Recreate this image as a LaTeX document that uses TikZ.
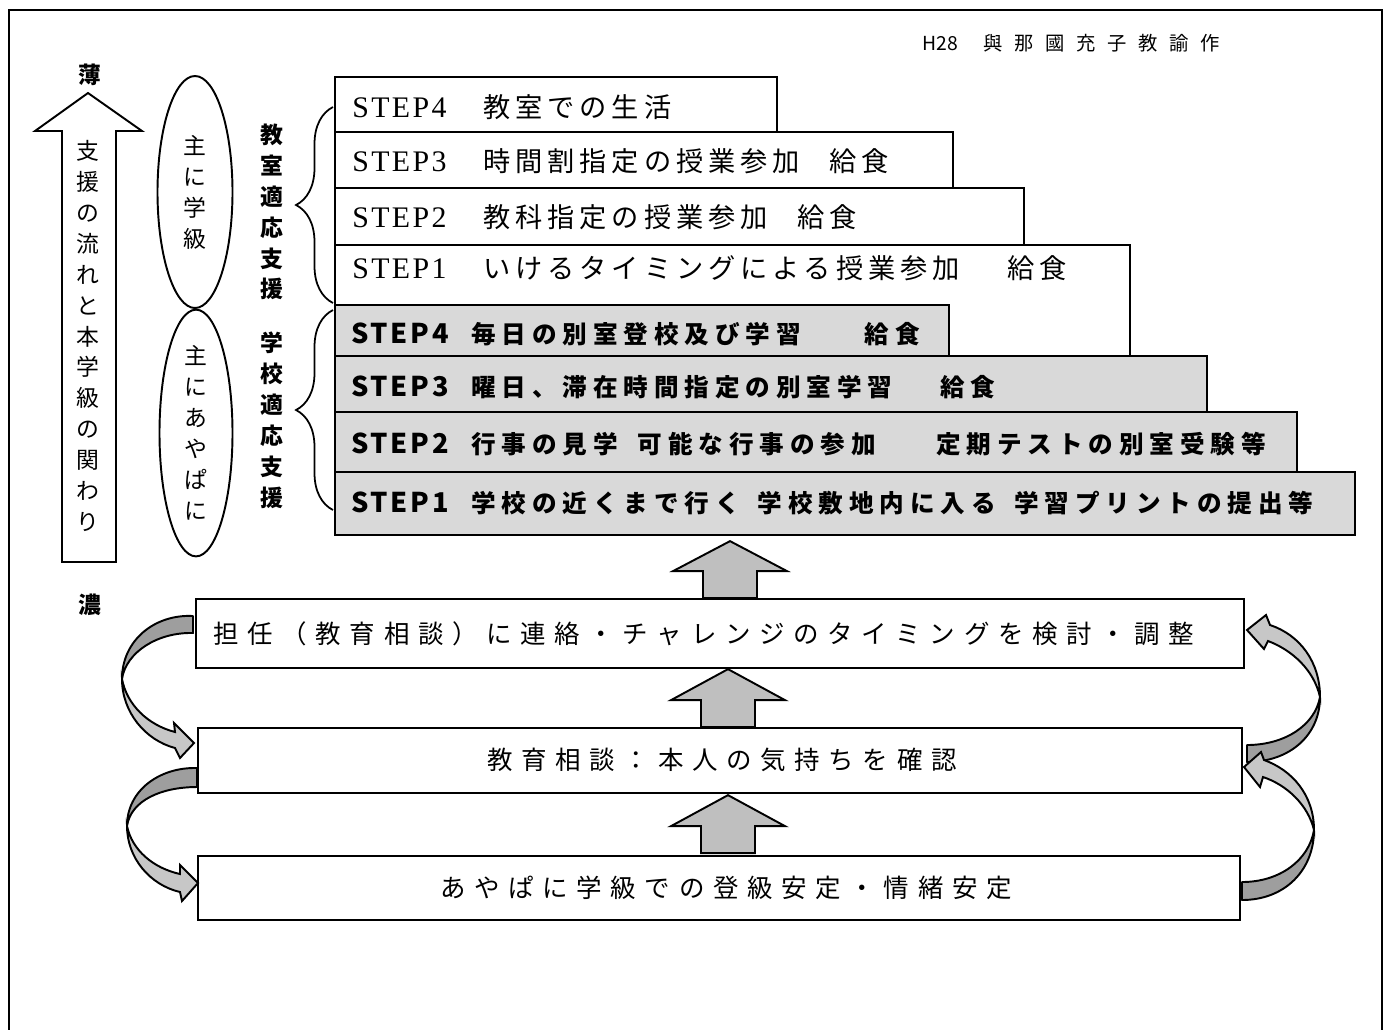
\documentclass[tikz,border=0pt]{standalone}
\usepackage{fontspec}
\setmainfont{Liberation Serif}
\newfontfamily\jp{Noto Sans CJK JP}
\newfontfamily\jpw{Noto Sans CJK JP}[LetterSpace=18]
\newfontfamily\jpg{Noto Sans CJK JP}[LetterSpace=24]
\newfontfamily\jpgl{Noto Sans CJK JP}[LetterSpace=10]
\newfontfamily\jpl{Noto Sans CJK JP}[LetterSpace=34]
\newfontfamily\jph{Noto Sans CJK JP}[LetterSpace=60]
\newfontfamily\latw{Liberation Serif}[LetterSpace=8]
\usetikzlibrary{calc,fit,shapes.geometric,decorations.pathreplacing}
\newlength\pxu
\setlength\pxu{0.02cm}
\begin{document}
\begin{tikzpicture}[x=0.02cm,y=-0.02cm,
  wbox/.style={draw,line width=1pt,fill=white,inner sep=0pt},
  gbox/.style={draw,line width=1pt,fill=black!15,inner sep=0pt},
  lbox/.style={draw,line width=1pt,fill=white,inner sep=0pt},
  wtext/.style={anchor=west,inner sep=0pt,font=\fontsize{15.5}{18}\selectfont},
  gtext/.style={anchor=west,inner sep=0pt,font=\fontsize{14}{17}\selectfont\bfseries},
  ltext/.style={inner sep=0pt,font=\fontsize{14.5}{17}\selectfont\jpl},
  vtext/.style={align=center,inner sep=0pt,font=\fontsize{13}{17.6}\selectfont\jp},
  vbold/.style={align=center,inner sep=0pt,font=\fontsize{13}{17.6}\selectfont\jp\bfseries},
  uparr/.style={draw,line width=1.1pt,fill=black!25,line join=miter},
  cdark/.style={draw,line width=1.1pt,fill=black!38,line join=round},
  clight/.style={draw,line width=1.1pt,fill=black!22,line join=miter},
  ell/.style={draw,ellipse,line width=1.1pt,inner sep=0pt,align=center,font=\fontsize{13}{17.6}\selectfont\jp},
  bracestyle/.style={draw,line width=1pt,decorate,decoration={brace,amplitude=0.74cm}}
]
\useasboundingbox (0,0) rectangle (1388,1029);
% outer frame
\draw[line width=1.3pt] (9,1040) -- (9,10) -- (1382,10) -- (1382,1040);

% header
\node[anchor=west,inner sep=0pt,font=\fontsize{11}{12}\selectfont] (hdr) at (922,43)
  {\jp H28\hspace{26\pxu}\jph 與那國充子教諭作};

% left big arrow
\draw[line width=1.1pt,fill=white,line join=miter] (62,562) -- (62,131) -- (35,131) -- (88,93) -- (142,131) -- (116,131) -- (116,562) -- cycle;
\node[vtext] (flow) at (88,336) {支\\援\\の\\流\\れ\\と\\本\\学\\級\\の\\関\\わ\\り};
\node[inner sep=0pt,font=\fontsize{13}{15}\selectfont\jp\bfseries] (thin) at (90,75) {薄};
\node[inner sep=0pt,font=\fontsize{13}{15}\selectfont\jp\bfseries] (thick) at (90,605) {濃};

% ellipses
\node[ell,minimum width=75\pxu,minimum height=232\pxu] (e1) at (195,192) {主\\に\\学\\級};
\node[ell,minimum width=73\pxu,minimum height=218\pxu] (e2) at (196,433) {主\\に\\あ\\や\\ぱ\\に};

% bold vertical labels
\node[vbold] (lab1) at (272,212) {教\\室\\適\\応\\支\\援};
\node[vbold] (lab2) at (272,420) {学\\校\\適\\応\\支\\援};

% braces
\draw[bracestyle] (333,303) -- (333,107);
\draw[bracestyle] (333,510) -- (333,310);

% white steps
\node[wbox,fit={(335,77)(777,132)}] (w4) {};
\node[wbox,fit={(335,132)(953,188)}] (w3) {};
\node[wbox,fit={(335,188)(1024,245)}] (w2) {};
\node[wbox,fit={(335,245)(1130,356)}] (w1) {};
\node[wtext] (tw4) at (352,107) {{\fontsize{17}{18}\selectfont\latw\makebox[131\pxu][l]{STEP4}}\jpw 教室での生活};
\node[wtext] (tw3) at (352,161) {{\fontsize{17}{18}\selectfont\latw\makebox[131\pxu][l]{STEP3}}\jpw 時間割指定の授業参加\hspace{30\pxu}給食};
\node[wtext] (tw2) at (352,217) {{\fontsize{17}{18}\selectfont\latw\makebox[131\pxu][l]{STEP2}}\jpw 教科指定の授業参加\hspace{30\pxu}給食};
\node[wtext] (tw1) at (352,268) {{\fontsize{17}{18}\selectfont\latw\makebox[131\pxu][l]{STEP1}}\jpw いけるタイミングによる授業参加\hspace{48\pxu}給食};

% gray steps
\node[gbox,fit={(335,305)(949,356)}] (g4) {};
\node[gbox,fit={(335,356)(1207,412)}] (g3) {};
\node[gbox,fit={(335,412)(1297,472)}] (g2) {};
\node[gbox,fit={(335,472)(1355,535)}] (g1) {};
\node[gtext] (tg4) at (351,334) {{\fontsize{15.5}{17}\selectfont\jpgl\makebox[120\pxu][l]{STEP4}}\jpg 毎日の別室登校及び学習\hspace{64\pxu}給食};
\node[gtext] (tg3) at (351,387) {{\fontsize{15.5}{17}\selectfont\jpgl\makebox[120\pxu][l]{STEP3}}\jpg 曜日、滞在時間指定の別室学習\hspace{48\pxu}給食};
\node[gtext] (tg2) at (351,444) {{\fontsize{15.5}{17}\selectfont\jpgl\makebox[120\pxu][l]{STEP2}}\jpg 行事の見学\hspace{20\pxu}可能な行事の参加\hspace{60\pxu}定期テストの別室受験等};
\node[gtext] (tg1) at (351,503) {{\fontsize{15.5}{17}\selectfont\jpgl\makebox[120\pxu][l]{STEP1}}\jpg 学校の近くまで行く\hspace{18\pxu}学校敷地内に入る\hspace{18\pxu}学習プリントの提出等};

% lower boxes
\node[lbox,fit={(196,599)(1244,668)}] (A) {};
\node[lbox,fit={(198,728)(1242,793)}] (B) {};
\node[lbox,fit={(198,856)(1240,920)}] (C) {};
\node[ltext,anchor=west] (tA) at (213,634) {担任（教育相談）に連絡・チャレンジのタイミングを検討・調整};
\node[ltext] (tB) at (722,760) {教育相談：本人の気持ちを確認};
\node[ltext] (tC) at (726,888) {あやぱに学級での登級安定・情緒安定};

% up arrows
\draw[uparr] ($(A.north)+(-17,0)$) -- ++(0,-27) -- ++(-30,0) -- ++(57,-30) -- ++(57,30) -- ++(-30,0) -- ++(0,27) -- cycle;
\draw[uparr] ($(B.north)+(-19,0)$) -- ++(0,-27) -- ++(-30,0) -- ++(57,-31) -- ++(57,31) -- ++(-30,0) -- ++(0,27) -- cycle;
\draw[uparr] ($(C.north)+(-18,-2)$) -- ++(0,-27) -- ++(-30,0) -- ++(57,-31) -- ++(57,31) -- ++(-30,0) -- ++(0,27) -- cycle;

% curved arrows left: A -> B, B -> C
\draw[cdark] (193,616) .. controls (155,614) and (122,640) .. (122,679) .. controls (126,652) and (158,632) .. (193,633) -- cycle;
\draw[clight] (122,679) .. controls (122,712) and (145,740) .. (175,748) -- (180,758) -- (194,743) -- (174,723) -- (175,732) .. controls (148,725) and (127,705) .. (122,679) -- cycle;
\draw[cdark] (197,768) .. controls (160,767) and (127,790) .. (127,826) .. controls (131,800) and (162,787) .. (197,787) -- cycle;
\draw[clight] (127,826) .. controls (127,858) and (150,885) .. (180,892) -- (182,901) -- (198,883) -- (180,865) -- (180,874) .. controls (153,868) and (132,850) .. (127,826) -- cycle;

% curved arrows right: B -> A, C -> B
\draw[cdark] (1247,762) .. controls (1290,762) and (1320,735) .. (1320,697) .. controls (1315,725) and (1285,745) .. (1247,745) -- cycle;
\draw[clight] (1320,697) .. controls (1320,662) and (1300,635) .. (1270,625) -- (1266,615) -- (1247,630) -- (1264,649) -- (1268,641) .. controls (1292,650) and (1314,670) .. (1320,697) -- cycle;
\draw[cdark] (1242,900) .. controls (1285,900) and (1314,870) .. (1314,830) .. controls (1309,860) and (1280,882) .. (1242,882) -- cycle;
\draw[clight] (1314,830) .. controls (1314,795) and (1292,770) .. (1264,760) -- (1261,752) -- (1244,767) -- (1260,787) -- (1263,777) .. controls (1287,785) and (1308,805) .. (1314,830) -- cycle;
\end{tikzpicture}
\end{document}
